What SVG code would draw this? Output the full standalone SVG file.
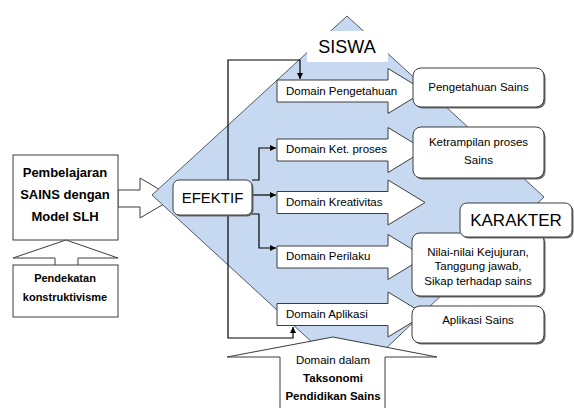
<svg xmlns="http://www.w3.org/2000/svg" width="574" height="408" viewBox="0 0 574 408">
<style>
.w{fill:#fff;stroke:#3c3c3c;stroke-width:1}
.sh{fill:#6a6a6a}
.t{font-family:"Liberation Sans",Arial,sans-serif;fill:#000}
.s11{font-size:11.5px}
.b{font-weight:bold}
.c{text-anchor:middle}
.ln{fill:none;stroke:#000;stroke-width:1.2}
</style>
<defs>
<marker id="ah" viewBox="0 0 10 10" refX="10" refY="5" markerWidth="6" markerHeight="6" orient="auto" markerUnits="userSpaceOnUse">
<path d="M0,0 L10,5 L0,10 Z" fill="#000"/>
</marker>
<path id="darrow" d="M0,-11 H111 V-22.5 L148,0 L111,22.5 V11 H0 Z"/>
</defs>
<rect width="574" height="408" fill="#fff"/>

<g id="arrow-left">
<polygon class="w" points="118,190 140,190 140,178 174,198 140,218 140,207 118,207"/>
</g>

<g id="siswa-diamond">
<polygon points="152,195 347,16 544,197 353,380" fill="#c6d9f1" stroke="#4f5b66" stroke-width="1"/>
<rect x="307" y="31" width="81" height="31" fill="#fff"/>
<text class="t c" x="347" y="53" font-size="18">SISWA</text>
</g>

<g id="pembelajaran">
<rect class="w" x="13" y="155" width="105" height="85"/>
<text class="t c b" x="65" y="177" font-size="13">Pembelajaran</text>
<text class="t c b" x="65" y="199" font-size="13">SAINS dengan</text>
<text class="t c b" x="65" y="221" font-size="13">Model SLH</text>
</g>

<g id="arrow-up-left">
<polygon class="w" points="55,266 55,258 13,258 66,240 118,258 78,258 78,266"/>
</g>

<g id="pendekatan">
<rect class="w" x="13" y="265" width="105" height="52"/>
<text class="t c b" x="65" y="282" font-size="11">Pendekatan</text>
<text class="t c b" x="65" y="301" font-size="11">konstruktivisme</text>
</g>

<g id="connectors">
<path class="ln" d="M228,200 V60 H300 V79" marker-end="url(#ah)"/>
<path class="ln" d="M228,200 V338 H293 V327" marker-end="url(#ah)"/>
<path class="ln" d="M252,180 H259 V148 H276" marker-end="url(#ah)"/>
<path class="ln" d="M252,195 H276" marker-end="url(#ah)"/>
<path class="ln" d="M252,214 H259 V248 H276" marker-end="url(#ah)"/>
</g>

<g id="domain-pengetahuan">
<use href="#darrow" x="277" y="91" class="w"/>
<text class="t s11" x="286" y="95">Domain Pengetahuan</text>
</g>
<g id="domain-ket-proses">
<use href="#darrow" x="277" y="150" class="w"/>
<text class="t s11" x="286" y="153">Domain Ket. proses</text>
</g>
<g id="domain-kreativitas">
<use href="#darrow" x="277" y="202.5" class="w"/>
<text class="t s11" x="286" y="206">Domain Kreativitas</text>
</g>
<g id="domain-perilaku">
<use href="#darrow" x="277" y="257" class="w"/>
<text class="t s11" x="286" y="260">Domain Perilaku</text>
</g>
<g id="domain-aplikasi">
<use href="#darrow" x="277" y="314.5" class="w"/>
<text class="t s11" x="286" y="318">Domain Aplikasi</text>
</g>

<g id="efektif">
<rect class="sh" x="174.5" y="181.5" width="79" height="35" rx="6"/>
<rect class="w" x="173" y="180" width="79" height="35" rx="6"/>
<text class="t c" x="212.5" y="203" font-size="15">EFEKTIF</text>
</g>

<g id="pengetahuan-sains">
<rect class="sh" x="414.5" y="69.5" width="131" height="39" rx="8"/>
<rect class="w" x="413" y="68" width="131" height="39" rx="8"/>
<text class="t c s11" x="478.5" y="91">Pengetahuan Sains</text>
</g>

<g id="ketrampilan">
<rect class="sh" x="414.5" y="128.5" width="131" height="51" rx="8"/>
<rect class="w" x="413" y="127" width="131" height="51" rx="8"/>
<text class="t c s11" x="478.5" y="146">Ketrampilan proses</text>
<text class="t c s11" x="478.5" y="164">Sains</text>
</g>

<g id="nilai">
<rect class="sh" x="413.5" y="234.5" width="132" height="63" rx="8"/>
<rect class="w" x="412" y="233" width="132" height="63" rx="8"/>
<text class="t c s11" x="478" y="256">Nilai-nilai Kejujuran,</text>
<text class="t c s11" x="478" y="270">Tanggung jawab,</text>
<text class="t c s11" x="478" y="285">Sikap terhadap sains</text>
</g>

<g id="aplikasi-sains">
<rect class="sh" x="413.5" y="307.5" width="132" height="37" rx="8"/>
<rect class="w" x="412" y="306" width="132" height="37" rx="8"/>
<text class="t c s11" x="478" y="324">Aplikasi Sains</text>
</g>

<g id="karakter">
<rect class="sh" x="461.5" y="204.5" width="112" height="34" rx="7"/>
<rect class="w" x="460" y="203" width="112" height="34" rx="7"/>
<text class="t c" x="516" y="226" font-size="17">KARAKTER</text>
</g>

<g id="taksonomi">
<polygon class="w" points="280,410 280,357 227,357 333,337 437,357 385,357 385,410"/>
<text class="t c s11" x="333" y="364">Domain dalam</text>
<text class="t c b s11" x="333" y="382">Taksonomi</text>
<text class="t c b s11" x="333" y="400">Pendidikan Sains</text>
</g>
</svg>
